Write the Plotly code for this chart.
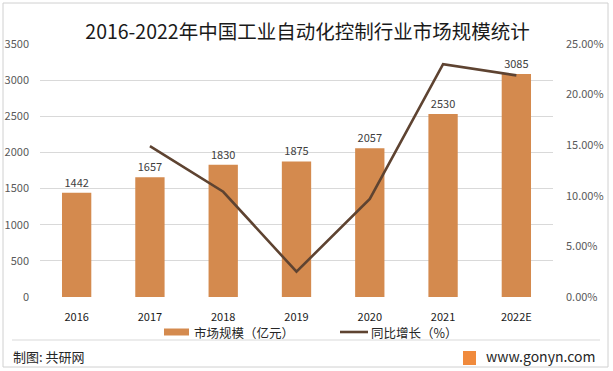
import plotly.graph_objects as go

categories = ["2016", "2017", "2018", "2019", "2020", "2021", "2022E"]
market_size = [1442, 1657, 1830, 1875, 2057, 2530, 3085]
growth = [None, 0.149, 0.104, 0.025, 0.097, 0.230, 0.219]
left_ticks = [0, 500, 1000, 1500, 2000, 2500, 3000, 3500]
right_ticks = [0, 0.05, 0.10, 0.15, 0.20, 0.25]
series_names = ["市场规模（亿元）", "同比增长（%）"]

FONT = "Noto Sans CJK SC"
BAR_COLOR = "#D48A4E"
LINE_COLOR = "#5E4331"
W, H = 613, 371
L, R, T, B = 40, 60, 44, 74
PW, PH = W - L - R, H - T - B


def px(x):
    return (x - L) / PW


def py(y):
    return (H - B - y) / PH


fig = go.Figure()
fig.add_trace(go.Bar(
    x=categories, y=market_size, name=series_names[0],
    marker=dict(color=BAR_COLOR, line=dict(width=0)),
    width=0.4,
    text=[str(v) for v in market_size], textposition="outside",
    textfont=dict(size=11, color="#404040", family=FONT),
    cliponaxis=False,
))
fig.add_trace(go.Scatter(
    x=categories, y=growth, name=series_names[1], yaxis="y2",
    mode="lines", line=dict(color=LINE_COLOR, width=2.6),
    connectgaps=False,
))

fig.update_layout(
    width=W, height=H,
    margin=dict(l=L, r=R, t=T, b=B, autoexpand=False),
    paper_bgcolor="white", plot_bgcolor="white",
    font=dict(family=FONT, color="#595959", size=11),
    title=dict(text="2016-2022年中国工业自动化控制行业市场规模统计",
               x=307.5 / W, xanchor="center", y=1 - 32 / H, yanchor="middle",
               font=dict(size=19.5, color="#1a1a1a", family=FONT)),
    showlegend=False,
    xaxis=dict(showgrid=False, showline=False, zeroline=False, ticks="",
               ticklabelstandoff=12, automargin=False,
               tickfont=dict(size=11, color="#1a1a1a", family=FONT)),
    yaxis=dict(range=[0, 3500], tickvals=left_ticks, showgrid=True, gridcolor="#D9D9D9",
               gridwidth=1, zeroline=False, showline=False, ticks="", automargin=False,
               ticklabelstandoff=10, tickfont=dict(size=11, color="#595959")),
    yaxis2=dict(range=[0, 0.25], tickvals=right_ticks, tickformat=".2%", overlaying="y",
                side="right", showgrid=False, zeroline=False, showline=False, ticks="",
                automargin=False,
                ticklabelstandoff=12, tickfont=dict(size=11, color="#595959")),
)

# custom legend
fig.add_shape(type="rect", xref="paper", yref="paper",
              x0=px(164), x1=px(189), y0=py(335.5), y1=py(328.5),
              line=dict(width=0), fillcolor=BAR_COLOR)
fig.add_annotation(text=series_names[0], xref="paper", yref="paper",
                   x=px(192), y=py(332), xanchor="left", yanchor="middle",
                   showarrow=False, font=dict(size=12.5, color="#262626", family=FONT))
fig.add_shape(type="line", xref="paper", yref="paper",
              x0=px(340), x1=px(368), y0=py(332), y1=py(332),
              line=dict(color=LINE_COLOR, width=2.6))
fig.add_annotation(text=series_names[1], xref="paper", yref="paper",
                   x=px(369), y=py(332), xanchor="left", yanchor="middle",
                   showarrow=False, font=dict(size=12.5, color="#262626", family=FONT))

# outer border and footer separator
fig.add_shape(type="rect", xref="paper", yref="paper",
              x0=px(3), x1=px(608), y0=py(367), y1=py(3),
              line=dict(color="#D0D0D0", width=1))
fig.add_shape(type="line", xref="paper", yref="paper",
              x0=px(12), x1=px(600), y0=py(340), y1=py(340),
              line=dict(color="#D9D9D9", width=1))
# small logo square
fig.add_shape(type="rect", xref="paper", yref="paper",
              x0=px(463), x1=px(476), y0=py(365), y1=py(351),
              line=dict(width=0), fillcolor="#F08A3C")
fig.add_annotation(text="制图: 共研网", xref="paper", yref="paper",
                   x=px(11), y=py(356), xanchor="left", yanchor="middle",
                   showarrow=False, font=dict(size=13, color="#262626", family=FONT))
fig.add_annotation(text="www.gonyn.com", xref="paper", yref="paper",
                   x=px(597), y=py(356), xanchor="right", yanchor="middle",
                   showarrow=False, font=dict(size=14, color="#262626", family=FONT))

fig.write_html("out.html", config={"displayModeBar": False},
               post_script="document.body.style.margin='0';document.body.style.overflow='hidden';")
